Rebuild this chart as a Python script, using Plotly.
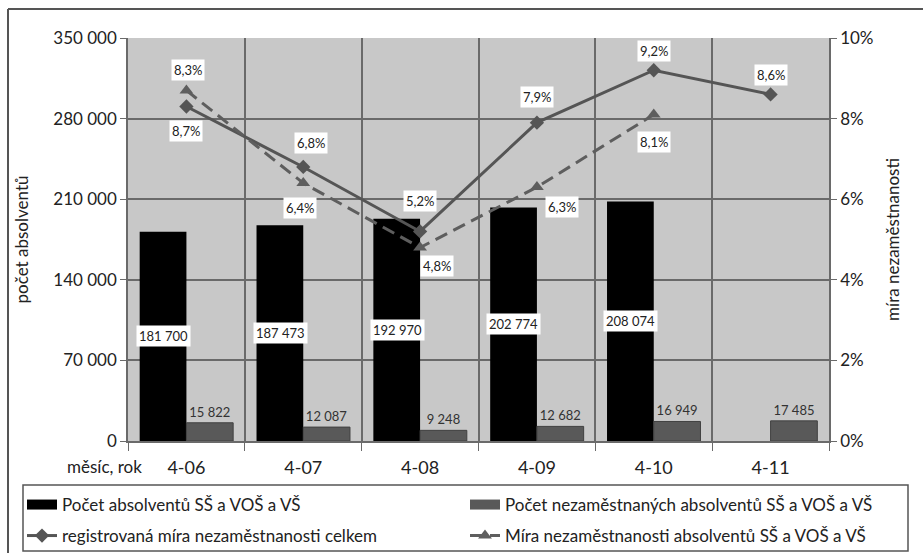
import plotly.graph_objects as go

categories = ["4-06", "4-07", "4-08", "4-09", "4-10", "4-11"]
absolventi = [181700, 187473, 192970, 202774, 208074, None]
nezam_absolventi = [15822, 12087, 9248, 12682, 16949, 17485]
mira_celkem = [8.3, 6.8, 5.2, 7.9, 9.2, 8.6]
mira_absolventi = [8.7, 6.4, 4.8, 6.3, 8.1, None]

names = [
    "Počet absolventů SŠ a VOŠ a VŠ",
    "Počet nezaměstnaných absolventů SŠ a VOŠ a VŠ",
    "registrovaná míra nezaměstnanosti celkem",
    "Míra nezaměstnanosti absolventů SŠ a VOŠ a VŠ",
]

# label offsets in px (style only)
off_celkem = [(2, -37), (8, -24), (0, -30), (0, -26), (0, -19), (0, -19)]
off_abs = [(0, 41), (-3, 25), (17, 18), (25, 20), (0, 27), (0, 0)]

FONT = "Lato, 'Open Sans', sans-serif"
TXT = "#222222"
GRID = "#6a6a6a"
BLACK = "#000000"
GRAYBAR = "#595959"
LINE1 = "#555555"
LINE2 = "#5e5e5e"

# plot area in px (for converting layout positions)
L, R, T, B = 128, 829, 38, 441
W, H = R - L, B - T


def px_x(p):
    return (p - L) / W


def px_y(p):
    return (B - p) / H


def fmt_pct(v):
    return f"{v:.1f}".replace(".", ",") + "%"


def fmt_int(v):
    return f"{v:,d}".replace(",", " ")


fig = go.Figure()
fig.add_trace(go.Bar(x=categories, y=absolventi, name=names[0], showlegend=False,
                     marker=dict(color=BLACK, line=dict(width=0))))
fig.add_trace(go.Bar(x=categories, y=nezam_absolventi, name=names[1], showlegend=False,
                     marker=dict(color=GRAYBAR, line=dict(color="#404040", width=1)),
                     text=[fmt_int(v) for v in nezam_absolventi],
                     textposition="outside", cliponaxis=False,
                     textfont=dict(size=13, color="#333333", family=FONT)))
fig.add_trace(go.Scatter(x=categories, y=mira_celkem, name=names[2], yaxis="y2",
                         mode="lines+markers", legend="legend3",
                         line=dict(color=LINE1, width=3),
                         marker=dict(symbol="diamond", size=11, color=LINE1)))
fig.add_trace(go.Scatter(x=categories, y=mira_absolventi, name=names[3], yaxis="y2",
                         mode="lines+markers", legend="legend4",
                         line=dict(color=LINE2, width=3, dash="13px,7px"),
                         marker=dict(symbol="triangle-up", size=12, color=LINE2)))
# legend-only swatches for the bar series (wide rectangles like the reference)
fig.add_trace(go.Scatter(x=[None], y=[None], name=names[0], mode="lines",
                         legend="legend", line=dict(color=BLACK, width=13)))
fig.add_trace(go.Scatter(x=[None], y=[None], name=names[1], mode="lines",
                         legend="legend2", line=dict(color=GRAYBAR, width=13)))

annotations = []
for c, v in zip(categories, absolventi):
    if v is None:
        continue
    annotations.append(dict(x=c, y=v / 2, xref="x", yref="y", text=fmt_int(v),
                            showarrow=False, xshift=-23, bgcolor="white",
                            borderpad=2,
                            font=dict(size=13, color=TXT, family=FONT)))
for c, v, o in zip(categories, mira_celkem, off_celkem):
    annotations.append(dict(x=c, y=v, xref="x", yref="y2", text=fmt_pct(v),
                            showarrow=False, xshift=o[0], yshift=-o[1],
                            bgcolor="white", borderpad=2,
                            font=dict(size=13, color=TXT, family=FONT)))
for c, v, o in zip(categories, mira_absolventi, off_abs):
    if v is None:
        continue
    annotations.append(dict(x=c, y=v, xref="x", yref="y2", text=fmt_pct(v),
                            showarrow=False, xshift=o[0], yshift=-o[1],
                            bgcolor="white", borderpad=2,
                            font=dict(size=13, color=TXT, family=FONT)))
annotations.append(dict(x=px_x(104), y=px_y(466), xref="paper", yref="paper",
                        xanchor="center", yanchor="middle",
                        text="měsíc, rok", showarrow=False,
                        font=dict(size=17, color=TXT, family=FONT)))


def leg(xp, yp):
    return dict(orientation="h", x=px_x(xp), y=px_y(yp), xanchor="left",
                yanchor="middle", bgcolor="rgba(0,0,0,0)", borderwidth=0,
                font=dict(size=17, color=TXT, family=FONT))


fig.update_layout(
    width=923, height=553,
    margin=dict(l=L, r=923 - R, t=T, b=553 - B, autoexpand=False),
    paper_bgcolor="white", plot_bgcolor="#c8c8c8",
    font=dict(family=FONT, color=TXT, size=17),
    separators=", ",
    barmode="group", bargap=0.2, bargroupgap=0,
    showlegend=True,
    legend=leg(22, 505),
    legend2=leg(465, 505),
    legend3=leg(22, 536),
    legend4=leg(465, 536),
    xaxis=dict(type="category", tickson="boundaries", showgrid=True,
               gridcolor=GRID, gridwidth=1.5, ticks="outside", ticklen=8,
               tickcolor=GRID, showline=True, linecolor=GRID, linewidth=1.5,
               tickfont=dict(size=18), range=[-0.5, 5.5],
               ticklabelstandoff=10),
    yaxis=dict(range=[0, 350000], dtick=70000, tickformat=",d",
               showgrid=True, gridcolor=GRID, gridwidth=1.5,
               ticks="outside", ticklen=6, tickcolor=GRID,
               showline=True, linecolor=GRID, linewidth=1.5,
               tickfont=dict(size=17), zeroline=False,
               title=dict(text="počet absolventů", standoff=20,
                          font=dict(size=17))),
    yaxis2=dict(range=[0, 10], dtick=2, ticksuffix="%", overlaying="y",
                side="right", showgrid=False, zeroline=False,
                ticks="outside", ticklen=6, tickcolor=GRID,
                showline=True, linecolor=GRID, linewidth=1.5,
                tickfont=dict(size=17),
                title=dict(text="míra nezaměstnanosti", standoff=15,
                           font=dict(size=17))),
    annotations=annotations,
    shapes=[
        dict(type="line", xref="paper", yref="paper", x0=px_x(8), x1=px_x(930),
             y0=px_y(9), y1=px_y(9), line=dict(color="#555555", width=2)),
        dict(type="line", xref="paper", yref="paper", x0=px_x(8), x1=px_x(8),
             y0=px_y(9), y1=px_y(560), line=dict(color="#555555", width=2)),
        dict(type="rect", xref="paper", yref="paper", x0=px_x(23), x1=px_x(908),
             y0=px_y(485), y1=px_y(551), line=dict(color="#555555", width=1.5),
             fillcolor="rgba(0,0,0,0)"),
    ],
)

fig.write_html("out.html")
